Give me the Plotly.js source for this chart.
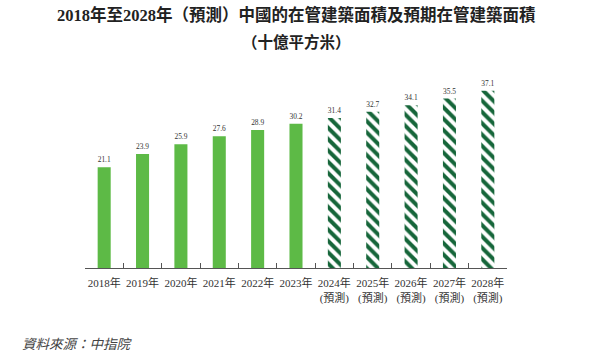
<!DOCTYPE html>
<html><head><meta charset="utf-8">
<script src="https://cdn.plot.ly/plotly-3.0.1.min.js"></script>
<style>body{margin:0;background:#fff}#chart{width:600px;height:360px}</style>
</head><body><div id="chart"></div>
<script>
const categories = ["2018年","2019年","2020年","2021年","2022年","2023年","2024年<br>(預測)","2025年<br>(預測)","2026年<br>(預測)","2027年<br>(預測)","2028年<br>(預測)"];
const actualYears = ["2018年","2019年","2020年","2021年","2022年","2023年"];
const actualValues = [21.1, 23.9, 25.9, 27.6, 28.9, 30.2];
const forecastYears = ["2024年<br>(預測)","2025年<br>(預測)","2026年<br>(預測)","2027年<br>(預測)","2028年<br>(預測)"];
const forecastValues = [31.4, 32.7, 34.1, 35.5, 37.1];

const serif = "Liberation Serif, 'Times New Roman', 'Noto Sans CJK TC', serif";
const valFont = {family: serif, size: 12, color: '#333'};
const tickFont = {family: serif, size: 11, color: '#333'};

const traces = [
  {type:'bar', x: actualYears, y: actualValues, width: 0.34,
   marker:{color:'#5dba46'}, text: actualValues.map(v=>v.toFixed(1)),
   textposition:'outside', textfont: valFont, cliponaxis:false, hoverinfo:'none'},
  {type:'bar', x: forecastYears, y: forecastValues, width: 0.34,
   marker:{color:'#ffffff', line:{width:0},
     pattern:{shape:'\\', fgcolor:'#16663a', fgopacity:1, bgcolor:'#ffffff', size:8, solidity:0.5, fillmode:'overlay'}},
   text: forecastValues.map(v=>v.toFixed(1)),
   textposition:'outside', textfont: valFont, cliponaxis:false, hoverinfo:'none'}
];

const layout = {
  width:600, height:360,
  margin:{l:85, r:93, t:77, b:92},
  paper_bgcolor:'#fff', plot_bgcolor:'#fff',
  showlegend:false, barmode:'overlay',
  xaxis:{type:'category', categoryorder:'array', categoryarray: categories, tickangle:0,
    showline:true, linecolor:'#555', linewidth:1, ticks:'inside', ticklen:5, tickcolor:'#555',
    tickson:'boundaries', tickfont:tickFont, ticklabelstandoff:5, showgrid:false, zeroline:false, fixedrange:true},
  yaxis:{range:[0,40], visible:false, showgrid:false, zeroline:false, fixedrange:true},
  annotations:[
    {text:'<b>2018年至2028年（預測）中國的在管建築面積及預期在管建築面積</b>', xref:'paper', yref:'paper',
     x:0.5, y:(268-15)/191, xanchor:'center', yanchor:'middle', showarrow:false,
     font:{family:serif, size:16.5, color:'#222'}},
    {text:'<b>（十億平方米）</b>', xref:'paper', yref:'paper',
     x:0.5, y:(268-42)/191, xanchor:'center', yanchor:'middle', showarrow:false,
     font:{family:serif, size:15.5, color:'#222'}},
    {text:'<i>資料來源：中指院</i>', xref:'paper', yref:'paper', x:(20-85)/422, y:(268-344)/191,
    xanchor:'left', yanchor:'middle', showarrow:false,
    font:{family:serif, size:13.5, color:'#444'}}]
};
Plotly.newPlot('chart', traces, layout, {displayModeBar:false, staticPlot:true});
</script></body></html>
